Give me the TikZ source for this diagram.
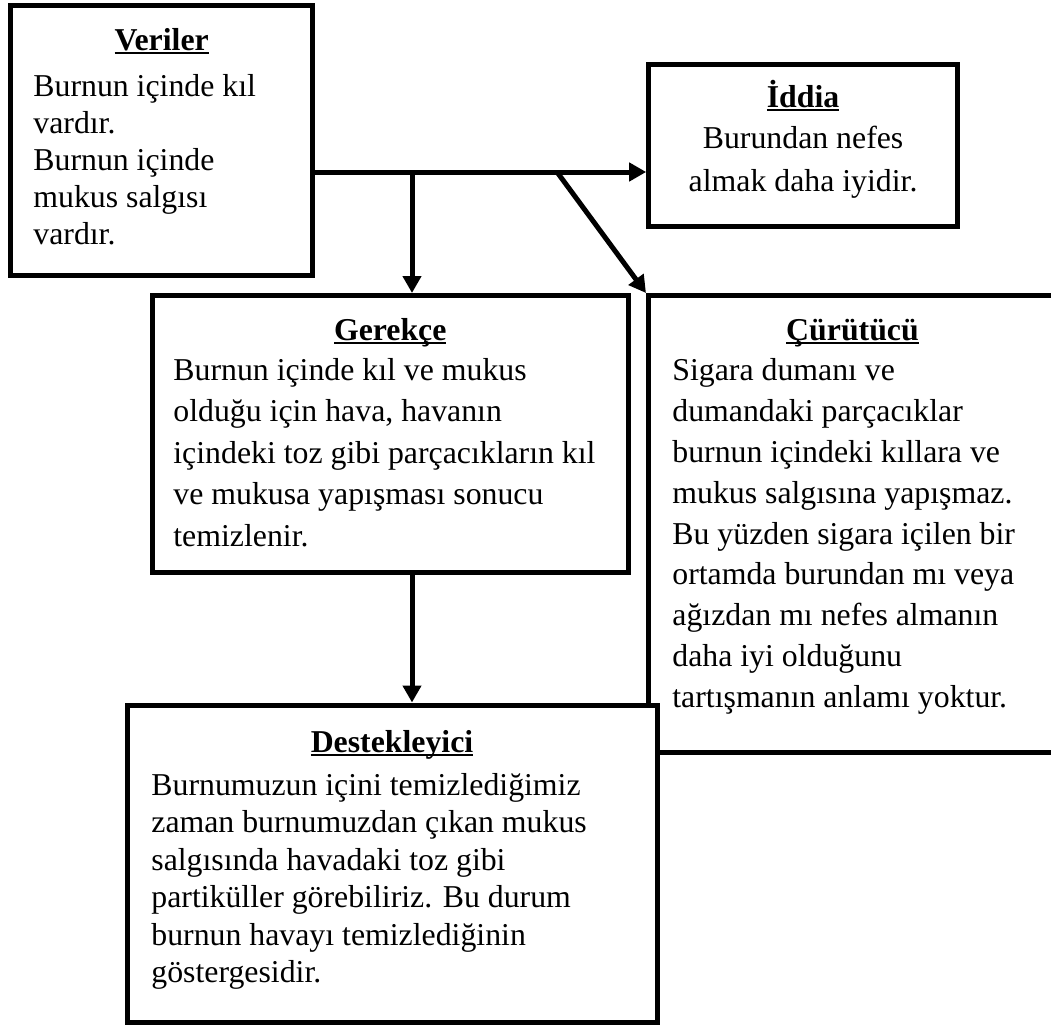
\documentclass[tikz,border=0pt]{standalone}
\usepackage{fontspec}
\setmainfont{Liberation Serif}
\usetikzlibrary{arrows.meta}
% bold, underlined heading of a box
\newcommand\boxtitle[1]{\setbox0\hbox{\bfseries #1}\rlap{\rule[-2.2pt]{\wd0}{1.3pt}}\box0}
\begin{document}
\begin{tikzpicture}[x=0.5pt, y=-0.5pt,
  frame/.style={draw, line width=2.5pt, fill=white, inner sep=0pt, outer sep=1.25pt},
  ttl/.style={inner sep=0pt, anchor=base, font=\fontsize{15.9pt}{18pt}\selectfont},
  body/.style={inner sep=0pt, anchor=base west, font=\fontsize{15.9pt}{#1}\selectfont},
  bodyc/.style={inner sep=0pt, anchor=base, font=\fontsize{15.9pt}{#1}\selectfont},
  arr/.style={line width=2.5pt, -{Triangle[length=8.5pt,width=9pt]}}
]
\path[use as bounding box, fill=white] (0,0) rectangle (1051,1028);
\clip (0,0) rectangle (1051,1028);

% frames
\node[frame, minimum width=150.85pt, minimum height=134.85pt] (veriler) at (161.65,140.65) {};
\node[frame, minimum width=154.4pt, minimum height=80.9pt] (iddia) at (803.1,145.6) {};
\node[frame, minimum width=237.75pt, minimum height=138.25pt] (gerekce) at (390.25,433.75) {};
\node[frame, minimum width=203.75pt, minimum height=228.25pt] (curutucu) at (852.25,523.75) {};
\node[frame, minimum width=265pt, minimum height=158.5pt] (destek) at (392,863.5) {};

% Veriler
\node[ttl] (verilerT) at (161.65,50) {\boxtitle{Veriler}};
\node[body=18.5pt] (verilerB) at (33,96) {\parbox[t]{200pt}{\raggedright
  Burnun içinde kıl\\ vardır.\\ Burnun içinde\\ mukus salgısı\\ vardır.}};

% İddia
\node[ttl] (iddiaT) at (803.1,107) {\boxtitle{İddia}};
\node[bodyc=21.5pt] (iddiaB) at (803.1,148) {\parbox[t]{200pt}{\centering
  Burundan nefes\\ almak daha iyidir.}};

% Gerekçe
\node[ttl] (gerekceT) at (390.25,340) {\boxtitle{Gerekçe}};
\node[body=20.75pt] (gerekceB) at (173,380) {\parbox[t]{230pt}{\raggedright
  Burnun içinde kıl ve mukus\\ olduğu için hava, havanın\\
  içindeki toz gibi parçacıkların kıl\\ ve mukusa yapışması sonucu\\ temizlenir.}};

% Çürütücü
\node[ttl] (curutucuT) at (852.5,340) {\boxtitle{Çürütücü}};
\node[body=20.4pt] (curutucuB) at (672,380.8) {\parbox[t]{190pt}{\raggedright
  Sigara dumanı ve\\ dumandaki parçacıklar\\ burnun içindeki kıllara ve\\
  mukus salgısına yapışmaz.\\ Bu yüzden sigara içilen bir\\
  ortamda burundan mı veya\\ ağızdan mı nefes almanın\\
  daha iyi olduğunu\\ tartışmanın anlamı yoktur.}};

% Destekleyici
\node[ttl] (destekT) at (392,752) {\boxtitle{Destekleyici}};
\node[body=18.75pt] (destekB) at (151,795) {\parbox[t]{250pt}{\raggedright
  Burnumuzun içini temizlediğimiz\\ zaman burnumuzdan çıkan mukus\\
  salgısında havadaki toz gibi\\ partiküller görebiliriz. Bu durum\\
  burnun havayı temizlediğinin\\ göstergesidir.}};

% connectors
\coordinate (fork1) at (412,172);
\coordinate (fork2) at (557,172);
\draw[arr] (veriler.east |- fork1) -- (iddia.west |- fork1);
\draw[arr] (fork1) -- (fork1 |- gerekce.north);
\draw[arr] (fork2) -- (curutucu.north west);
\draw[arr] (gerekce.south -| fork1) -- (fork1 |- destek.north);
\end{tikzpicture}
\end{document}
